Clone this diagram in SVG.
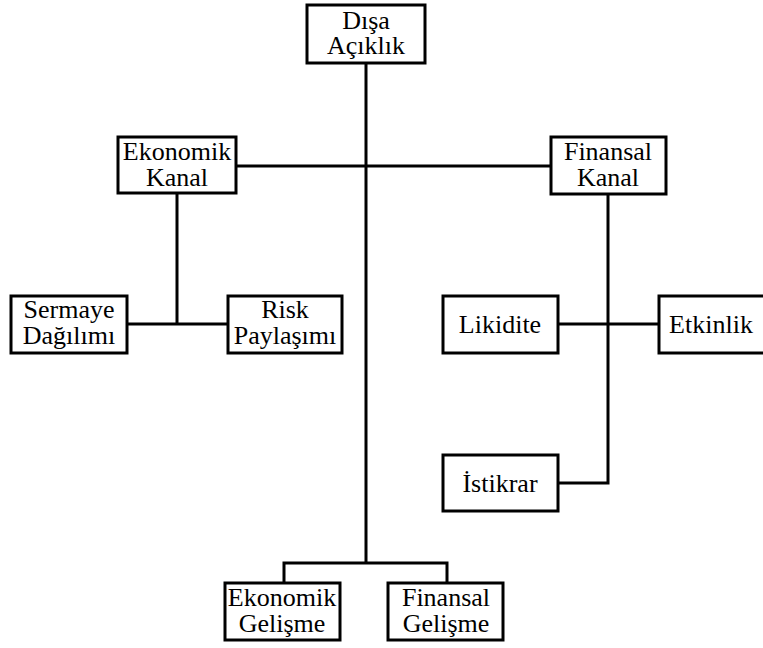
<svg xmlns="http://www.w3.org/2000/svg" width="763" height="648" viewBox="0 0 763 648">
<defs>
<style>
rect.n{fill:#fff;stroke:#000;stroke-width:3}
.c{fill:none;stroke:#000;stroke-width:3}
</style>
</defs>
<rect x="0" y="0" width="763" height="648" fill="#fff"/>
<g id="connectors">
<path class="c" d="M366 63V563M284 583V563H447V583"/>
<path class="c" d="M236 166H551"/>
<path class="c" d="M177 193V324M127 324H228"/>
<path class="c" d="M608 194V483H558M558 324H659"/>
</g>
<g id="disa"><rect class="n" x="307" y="5" width="118" height="58"/><text x="366" y="29" font-family="Liberation Serif" font-size="26" text-anchor="middle">Dışa</text><text x="366" y="54" font-family="Liberation Serif" font-size="26" text-anchor="middle">Açıklık</text></g>
<g id="ekonomik-kanal"><rect class="n" x="118" y="137" width="118" height="56"/><text x="177" y="160" font-family="Liberation Serif" font-size="26" text-anchor="middle">Ekonomik</text><text x="177" y="186" font-family="Liberation Serif" font-size="26" text-anchor="middle">Kanal</text></g>
<g id="finansal-kanal"><rect class="n" x="551" y="137" width="115" height="57"/><text x="608" y="160" font-family="Liberation Serif" font-size="26" text-anchor="middle">Finansal</text><text x="608" y="186" font-family="Liberation Serif" font-size="26" text-anchor="middle">Kanal</text></g>
<g id="sermaye"><rect class="n" x="11" y="296" width="116" height="57"/><text x="69" y="318" font-family="Liberation Serif" font-size="26" text-anchor="middle">Sermaye</text><text x="69" y="344" font-family="Liberation Serif" font-size="26" text-anchor="middle">Dağılımı</text></g>
<g id="risk"><rect class="n" x="228" y="296" width="114" height="57"/><text x="285" y="318" font-family="Liberation Serif" font-size="26" text-anchor="middle">Risk</text><text x="285" y="344" font-family="Liberation Serif" font-size="26" text-anchor="middle">Paylaşımı</text></g>
<g id="likidite"><rect class="n" x="443" y="296" width="115" height="57"/><text x="500" y="333" font-family="Liberation Serif" font-size="26" text-anchor="middle">Likidite</text></g>
<g id="etkinlik"><rect class="n" x="659" y="296" width="110" height="57"/><text x="711" y="333" font-family="Liberation Serif" font-size="26" text-anchor="middle">Etkinlik</text></g>
<g id="istikrar"><rect class="n" x="443" y="455" width="115" height="56"/><text x="500" y="492" font-family="Liberation Serif" font-size="26" text-anchor="middle">İstikrar</text></g>
<g id="ekonomik-gelisme"><rect class="n" x="225" y="583" width="115" height="57"/><text x="282" y="606" font-family="Liberation Serif" font-size="26" text-anchor="middle">Ekonomik</text><text x="282" y="632" font-family="Liberation Serif" font-size="26" text-anchor="middle">Gelişme</text></g>
<g id="finansal-gelisme"><rect class="n" x="388" y="583" width="115" height="57"/><text x="446" y="606" font-family="Liberation Serif" font-size="26" text-anchor="middle">Finansal</text><text x="446" y="632" font-family="Liberation Serif" font-size="26" text-anchor="middle">Gelişme</text></g>
</svg>
